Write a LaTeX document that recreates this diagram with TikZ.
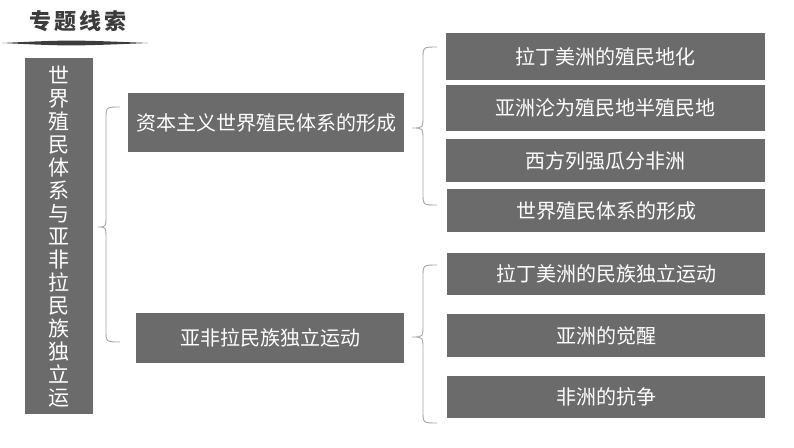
\documentclass[tikz,border=0pt]{standalone}
\usepackage{fontspec}
\newfontfamily\cjk{Noto Sans CJK SC}
\newfontfamily\cjkbold{Noto Sans CJK SC Black}
\definecolor{boxgray}{RGB}{107,107,107}
\definecolor{bracegray}{RGB}{165,165,165}
\definecolor{titlegray}{RGB}{60,60,60}
\tikzset{
  graybox/.style={fill=boxgray, text=white, inner sep=0pt, font=\cjk\fontsize{20}{22}\selectfont},
  bracestyle/.style={draw=bracegray, line width=0.9pt},
}
\begin{document}
\begin{tikzpicture}[x=1pt, y=-1pt]
\useasboundingbox (0,0) rectangle (794,447);
\fill[white] (0,0) rectangle (794,447);
% title
\node[font=\cjkbold\fontsize{22}{22}\selectfont, text=titlegray, inner sep=0pt] (title) at (78,21) {专\hspace{3pt}题\hspace{3pt}线\hspace{3pt}索};
\fill[titlegray] (2,43) .. controls (70,39.8) .. (148,43) .. controls (70,46.2) .. (2,43) -- cycle;
% left vertical box
\node[graybox, minimum width=68pt, minimum height=356pt] (root) at (59,236) {};
\node[text=white, inner sep=0pt, align=center, font=\cjk\fontsize{21}{23}\selectfont, anchor=north] (roottext) at (59,66) {世\\界\\殖\\民\\体\\系\\与\\亚\\非\\拉\\民\\族\\独\\立\\运};
% middle boxes
\node[graybox, minimum width=276pt, minimum height=59pt] (capital) at (266,122.5) {资本主义世界殖民体系的形成};
\node[graybox, minimum width=268pt, minimum height=50pt] (indep) at (270,338) {亚非拉民族独立运动};
% right boxes
\node[graybox, minimum width=319pt, minimum height=47pt] (r1) at (605.5,56.5) {拉丁美洲的殖民地化};
\node[graybox, minimum width=319pt, minimum height=46pt] (r2) at (605.5,108) {亚洲沦为殖民地半殖民地};
\node[graybox, minimum width=319pt, minimum height=43pt] (r3) at (605.5,160.5) {西方列强瓜分非洲};
\node[graybox, minimum width=318pt, minimum height=43pt] (r4) at (606,210.5) {世界殖民体系的形成};
\node[graybox, minimum width=318pt, minimum height=42pt] (r5) at (606,274) {拉丁美洲的民族独立运动};
\node[graybox, minimum width=318pt, minimum height=43pt] (r6) at (606,335.5) {亚洲的觉醒};
\node[graybox, minimum width=318pt, minimum height=42pt] (r7) at (606,397) {非洲的抗争};
% braces
\coordinate (b1t) at (120,107); \coordinate (b1m) at (98,227); \coordinate (b1b) at (120,342);
\draw[bracestyle] (b1t) .. controls (106,107) .. (106,119) -- (106,215) .. controls (106,227) .. (b1m) .. controls (106,227) .. (106,239) -- (106,330) .. controls (106,342) .. (b1b);
\coordinate (b2t) at (437,47); \coordinate (b2m) at (412,128); \coordinate (b2b) at (437,205);
\draw[bracestyle] (b2t) .. controls (423,47) .. (423,59) -- (423,116) .. controls (423,128) .. (b2m) .. controls (423,128) .. (423,140) -- (423,193) .. controls (423,205) .. (b2b);
\coordinate (b3t) at (437,265); \coordinate (b3m) at (412,337); \coordinate (b3b) at (437,423);
\draw[bracestyle] (b3t) .. controls (423,265) .. (423,277) -- (423,325) .. controls (423,337) .. (b3m) .. controls (423,337) .. (423,349) -- (423,411) .. controls (423,423) .. (b3b);
\end{tikzpicture}
\end{document}
